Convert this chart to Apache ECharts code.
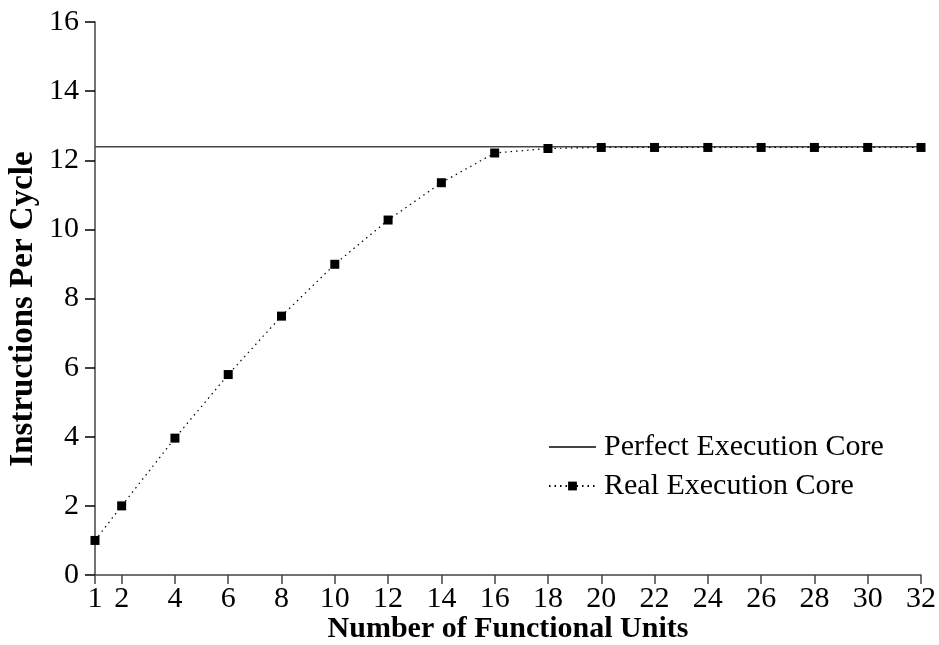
<!DOCTYPE html>
<html>
<head>
<meta charset="utf-8">
<script src="https://cdn.jsdelivr.net/npm/echarts@6/dist/echarts.min.js"></script>
<style>html,body{margin:0;padding:0;background:#fff}#c{width:939px;height:645px}</style>
</head>
<body>
<div id="c"></div>
<script>
var unitCounts = [1, 2, 4, 6, 8, 10, 12, 14, 16, 18, 20, 22, 24, 26, 28, 30, 32];
var realIPC = [1.0, 2.0, 3.96, 5.8, 7.49, 8.99, 10.27, 11.35, 12.21, 12.34, 12.37, 12.37, 12.37, 12.37, 12.37, 12.37, 12.37];
var perfectX = [1, 32];
var perfectIPC = [12.39, 12.39];
var xTicks = [1, 2, 4, 6, 8, 10, 12, 14, 16, 18, 20, 22, 24, 26, 28, 30, 32];
var seriesNames = ['Perfect Execution Core', 'Real Execution Core'];
var xTitle = 'Number of Functional Units';
var yTitle = 'Instructions Per Cycle';

var font = 'Liberation Serif';
var chart = echarts.init(document.getElementById('c'), null, {renderer: 'canvas'});
function pairs(xs, ys) { return xs.map(function (x, i) { return [x, ys[i]]; }); }
chart.setOption({
  animation: false,
  backgroundColor: '#fff',
  grid: {left: 95, right: 17, top: 22, bottom: 70},
  legend: {
    orient: 'vertical',
    left: 543, top: 427,
    itemWidth: 47, itemHeight: 11, itemGap: 9,
    textStyle: {fontFamily: font, fontSize: 30, color: '#000', padding: [0, 0, 0, 3]},
    data: [
      {name: seriesNames[0], itemStyle: {opacity: 0}},
      {name: seriesNames[1]}
    ]
  },
  graphic: [
    {type: 'text', x: 23, y: 309, rotation: Math.PI / 2,
     style: {text: yTitle, fontFamily: font, fontSize: 33, fontWeight: 'bold', fill: '#000', align: 'center', verticalAlign: 'middle'}},
    {type: 'text', x: 508, y: 629,
     style: {text: xTitle, fontFamily: font, fontSize: 30, fontWeight: 'bold', fill: '#000', align: 'center', verticalAlign: 'middle'}}
  ],
  xAxis: {
    type: 'value', min: 1, max: 32,
    axisLine: {lineStyle: {color: '#444', width: 1.5}},
    axisTick: {show: true, inside: false, length: 9, customValues: xTicks, lineStyle: {color: '#444', width: 1.5}},
    axisLabel: {customValues: xTicks, margin: 9, fontFamily: font, fontSize: 30, color: '#000'},
    splitLine: {show: false}
  },
  yAxis: {
    type: 'value', min: 0, max: 16, interval: 2,
    axisLine: {show: true, lineStyle: {color: '#444', width: 1.5}},
    axisTick: {show: true, inside: false, length: 10, lineStyle: {color: '#000', width: 1.5}},
    axisLabel: {margin: 16, fontFamily: font, fontSize: 30, color: '#000'},
    splitLine: {show: false}
  },
  series: [
    {
      name: seriesNames[0], type: 'line', data: pairs(perfectX, perfectIPC),
      showSymbol: false, symbol: 'none',
      lineStyle: {color: '#444', width: 1.6, type: 'solid'},
      itemStyle: {color: '#444'}, z: 2
    },
    {
      name: seriesNames[1], type: 'line', data: pairs(unitCounts, realIPC),
      symbol: 'rect', symbolSize: 9,
      lineStyle: {color: '#000', width: 1.2, type: [1.5, 4]},
      itemStyle: {color: '#000'}, z: 3
    }
  ]
});
</script>
</body>
</html>
